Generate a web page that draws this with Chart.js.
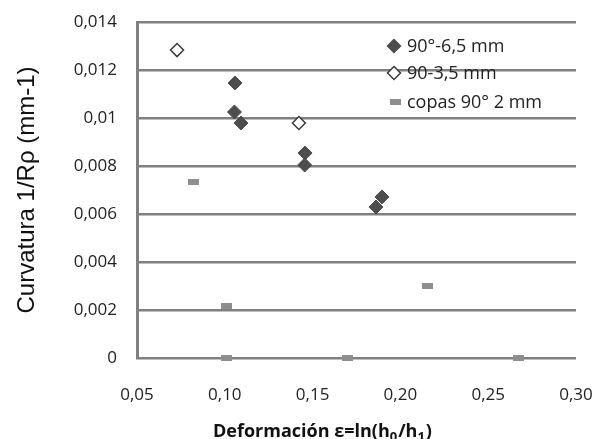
<!DOCTYPE html>
<html>
<head>
<meta charset="utf-8">
<script src="https://cdn.jsdelivr.net/npm/chart.js@4"></script>
<style>
  html, body { margin: 0; padding: 0; background: #fff; }
  #wrap { width: 595px; height: 439px; }
</style>
</head>
<body>
<div id="wrap"><canvas id="chart" width="595" height="439"></canvas></div>
<script>
// series: 90°-6,5 mm
const filledX = [0.1058, 0.1055, 0.1092, 0.1457, 0.1455, 0.1895, 0.1861];
const filledY = [0.01146, 0.01025, 0.00979, 0.00854, 0.00804, 0.00671, 0.00629];
// series: 90-3,5 mm
const hollowX = [0.0728, 0.1422];
const hollowY = [0.01283, 0.00979];
// series: copas 90° 2 mm
const copasX = [0.0819, 0.1012, 0.1012, 0.170, 0.2157, 0.267];
const copasY = [0.00733, 0.00217, 0, 0, 0.0030, 0];

const seriesNames = ["90°-6,5 mm", "90-3,5 mm", "copas 90° 2 mm"];
const xTicks = [0.05, 0.10, 0.15, 0.20, 0.25, 0.30];
const yTicks = [0, 0.002, 0.004, 0.006, 0.008, 0.010, 0.012, 0.014];

const toPts = (xs, ys) => xs.map((x, i) => ({ x: x, y: ys[i] }));

// little gray dash used as marker
const dash = document.createElement("canvas");
dash.width = 11; dash.height = 6;
const dctx = dash.getContext("2d");
dctx.fillStyle = "#8e8e8e";
dctx.fillRect(0, 0, 11, 6);

// legend drawn inside the plot, top right
const insideLegend = {
  id: "insideLegend",
  afterDraw(chart) {
    const ctx = chart.ctx;
    const x0 = 394, ys = [46, 73, 102];
    ctx.save();
    ctx.font = "18px 'Open Sans'";
    ctx.textBaseline = "middle";
    chart.data.datasets.forEach((ds, i) => {
      const y = ys[i];
      if (i === 2) {
        ctx.drawImage(dash, x0 - 4, y - 3);
      } else {
        ctx.beginPath();
        ctx.moveTo(x0, y - 6.5); ctx.lineTo(x0 + 6.5, y); ctx.lineTo(x0, y + 6.5); ctx.lineTo(x0 - 6.5, y);
        ctx.closePath();
        ctx.fillStyle = ds.backgroundColor;
        ctx.fill();
        ctx.lineWidth = 1.5;
        ctx.strokeStyle = ds.borderColor;
        ctx.stroke();
      }
      ctx.fillStyle = "#222";
      ctx.fillText(seriesNames[i], x0 + 13, y + 1);
    });
    ctx.restore();
  }
};

// x axis title with real subscripts
const xTitle = {
  id: "xTitle",
  afterDraw(chart) {
    const ctx = chart.ctx;
    const parts = [
      ["Deformación ε=ln(h", 0],
      ["0", 1],
      ["/h", 0],
      ["1", 1],
      [")", 0]
    ];
    let x = 213;
    const base = 437;
    ctx.save();
    ctx.fillStyle = "#111";
    ctx.textBaseline = "alphabetic";
    parts.forEach(([t, sub]) => {
      ctx.font = sub ? "bold 13px 'Open Sans'" : "bold 18px 'Open Sans'";
      ctx.fillText(t, x, sub ? base + 4 : base);
      x += ctx.measureText(t).width + (sub ? 1 : 0);
    });
    ctx.restore();
  }
};

new Chart(document.getElementById("chart"), {
  type: "scatter",
  data: {
    datasets: [
      {
        label: seriesNames[0],
        data: toPts(filledX, filledY),
        pointStyle: "rectRot",
        pointRadius: 7,
        backgroundColor: "#4d4d4d",
        borderColor: "#4d4d4d",
        borderWidth: 1,
        clip: false
      },
      {
        label: seriesNames[1],
        data: toPts(hollowX, hollowY),
        pointStyle: "rectRot",
        pointRadius: 6.5,
        backgroundColor: "#ffffff",
        borderColor: "#3a3a3a",
        borderWidth: 1.5,
        clip: false
      },
      {
        label: seriesNames[2],
        data: toPts(copasX, copasY),
        pointStyle: dash,
        backgroundColor: "#8e8e8e",
        borderColor: "#8e8e8e",
        clip: false
      }
    ]
  },
  options: {
    responsive: false,
    animation: false,
    layout: { padding: { left: 0, right: 19, top: 22, bottom: 0 } },
    plugins: {
      legend: { display: false },
      tooltip: { enabled: false }
    },
    scales: {
      x: {
        type: "linear",
        min: 0.05,
        max: 0.30,
        afterBuildTicks: (s) => { s.ticks = xTicks.map(v => ({ value: v })); },
        afterFit: (s) => { s.height = 81; s.paddingLeft = 0; s.paddingRight = 0; },
        grid: { display: false, drawTicks: false },
        border: { display: false },
        ticks: {
          padding: 27,
          color: "#222",
          font: { family: "'Open Sans'", size: 17 },
          callback: (v) => v.toFixed(2).replace(".", ",")
        }
      },
      y: {
        min: 0,
        max: 0.014,
        afterBuildTicks: (s) => { s.ticks = yTicks.map(v => ({ value: v })); },
        afterFit: (s) => { s.width = 137; s.paddingTop = 0; s.paddingBottom = 0; },
        grid: { color: "#808080", lineWidth: 2.5, drawTicks: false },
        border: { display: true, color: "#808080", width: 3 },
        ticks: {
          padding: 20,
          color: "#222",
          font: { family: "'Open Sans'", size: 17 },
          callback: (v) => v === 0 ? "0" : String(+v.toFixed(3)).replace(".", ",")
        },
        title: {
          display: true,
          text: "Curvatura 1/Rρ (mm-1)",
          color: "#111",
          font: { family: "'Liberation Sans'", size: 24 },
          padding: { top: 13, bottom: 0 }
        }
      }
    }
  },
  plugins: [insideLegend, xTitle]
});
</script>
</body>
</html>
